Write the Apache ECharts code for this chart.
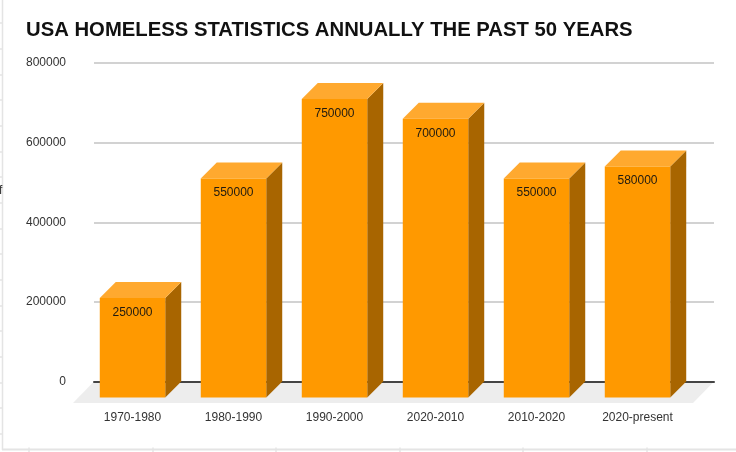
<!DOCTYPE html>
<html>
<head>
<meta charset="utf-8">
<style>html,body{margin:0;padding:0;background:#fff}#c{width:736px;height:452px}</style>
<script src="https://cdn.jsdelivr.net/npm/echarts@6/dist/echarts.min.js"></script>
</head>
<body>
<div id="c"></div>
<script>
const titleText = 'USA HOMELESS STATISTICS ANNUALLY THE PAST 50 YEARS';
const categories = ['1970-1980', '1980-1990', '1990-2000', '2020-2010', '2010-2020', '2020-present'];
const homeless = [250000, 550000, 750000, 700000, 550000, 580000];
const yTicks = [0, 200000, 400000, 600000, 800000];

const FONT = '"Liberation Sans", Arial, sans-serif';
const DEPTH = 16;
const FLOOR = 21;

function bar3d(params, api) {
  const i = api.value(0), v = api.value(1);
  const top = api.coord([i, v]);
  const base = api.coord([i, 0]);
  const w = api.size([1, 0])[0] * 0.648;
  const x0 = top[0] - w / 2, x1 = top[0] + w / 2;
  const yt = top[1] + DEPTH, yb = base[1] + DEPTH;
  return {
    type: 'group',
    children: [
      { type: 'polygon', shape: { points: [[x1, yt], [x1 + DEPTH, yt - DEPTH], [x1 + DEPTH, yb - DEPTH], [x1, yb]] },
        style: { fill: '#a86500' } },
      { type: 'polygon', shape: { points: [[x0, yt], [x0 + DEPTH, yt - DEPTH], [x1 + DEPTH, yt - DEPTH], [x1, yt]] },
        style: { fill: '#ffa92f' } },
      { type: 'rect', shape: { x: x0, y: yt, width: w, height: yb - yt },
        style: { fill: '#ff9900' } },
      { type: 'text', style: { text: String(v), x: top[0], y: yt + 14.5, align: 'center', verticalAlign: 'middle',
        fill: '#1f1a10', font: '12px ' + FONT } }
    ]
  };
}

function floor(params) {
  const c = params.coordSys, y = c.y + c.height, x = c.x, r = c.x + c.width;
  return { type: 'polygon',
    shape: { points: [[x, y], [r, y], [r - FLOOR, y + FLOOR + 0.5], [x - FLOOR, y + FLOOR + 0.5]] },
    style: { fill: '#ededed' } };
}

const decor = [];
const line = (x1, y1, x2, y2, w) => decor.push({ type: 'line', silent: true, z: -5,
  shape: { x1, y1, x2, y2 }, style: { stroke: '#e4e4e4', lineWidth: w } });
line(2.5, 0, 2.5, 450, 1.5);
line(2, 449.5, 736, 449.5, 2);
[23, 49, 75, 100, 126, 152, 177, 203, 229, 254, 280, 306, 331, 357, 383, 408, 434].forEach(y => line(0, y, 2, y, 1.5));
[29, 153, 276, 400, 523, 647].forEach(x => line(x, 447.5, x, 452, 1.5));
decor.push({ type: 'text', left: -1, top: 185, silent: true, style: { text: 'f', fill: '#333', font: '12px ' + FONT } });

const chart = echarts.init(document.getElementById('c'), null, { renderer: 'canvas' });
chart.setOption({
  animation: false,
  backgroundColor: '#ffffff',
  textStyle: { fontFamily: FONT },
  title: { text: titleText, left: 26, top: 20.5, padding: 0,
    textStyle: { fontFamily: FONT, fontSize: 20.3, fontWeight: 'bold', color: '#111111' } },
  graphic: decor,
  grid: [
    { left: 94, width: 620, top: 63, height: 318.5 },
    { left: 82, width: 606, top: 63, height: 318.5 }
  ],
  xAxis: [
    { type: 'category', gridIndex: 0, data: categories, z: 1,
      axisLine: { show: true, lineStyle: { color: '#444444', width: 2 } },
      axisTick: { show: false }, axisLabel: { show: false }, splitLine: { show: false } },
    { type: 'category', gridIndex: 1, data: categories,
      axisLine: { show: false }, axisTick: { show: false },
      axisLabel: { color: '#333333', fontSize: 12, fontFamily: FONT, margin: 30.5, interval: 0 } }
  ],
  yAxis: [
    { type: 'value', gridIndex: 0, min: yTicks[0], max: yTicks[yTicks.length - 1], interval: yTicks[1], z: 1,
      axisLine: { show: false }, axisTick: { show: false },
      axisLabel: { color: '#333333', fontSize: 12, fontFamily: FONT, margin: 28, padding: [6, 0, 0, 0],
        verticalAlignMaxLabel: 'middle', verticalAlignMinLabel: 'middle',
        formatter: v => String(v) },
      splitLine: { lineStyle: { color: '#d2d2d2', width: 2 } } },
    { type: 'value', gridIndex: 1, min: yTicks[0], max: yTicks[yTicks.length - 1], interval: yTicks[1],
      axisLine: { show: false }, axisTick: { show: false }, axisLabel: { show: false }, splitLine: { show: false } }
  ],
  series: [
    { type: 'custom', name: 'floor', xAxisIndex: 0, yAxisIndex: 0, z: 0, silent: true, clip: false,
      renderItem: floor, data: [[0, 0]] },
    { type: 'custom', name: 'Homeless', xAxisIndex: 1, yAxisIndex: 1, z: 3, clip: false,
      renderItem: bar3d, encode: { x: 0, y: 1 },
      data: homeless.map((v, i) => [i, v]) }
  ]
});
</script>
</body>
</html>
